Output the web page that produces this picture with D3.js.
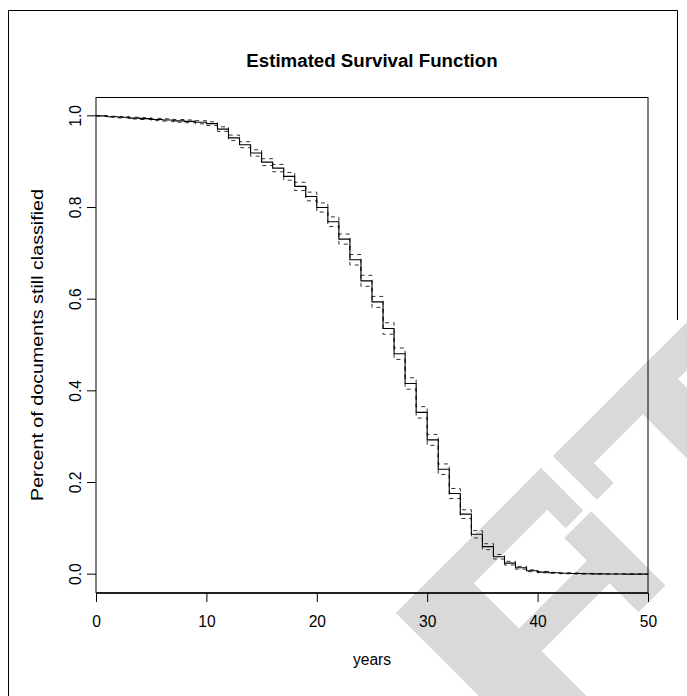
<!DOCTYPE html>
<html>
<head>
<meta charset="utf-8">
<script src="https://cdn.jsdelivr.net/npm/d3@7/dist/d3.min.js"></script>
<style>
  html, body { margin: 0; padding: 0; background: #fff; }
  svg text { font-family: "Liberation Sans", Arial, Helvetica, sans-serif; fill: #000; }
</style>
</head>
<body>
<div id="chart"></div>
<script>
// Kaplan-Meier estimate, value held from each year onward
const years = d3.range(0, 51);
const survival = [
  1.000, 0.998, 0.997, 0.995, 0.994, 0.992, 0.991, 0.989, 0.988, 0.986,
  0.983, 0.971, 0.952, 0.937, 0.919, 0.899, 0.886, 0.868, 0.846, 0.824,
  0.800, 0.769, 0.731, 0.686, 0.640, 0.594, 0.536, 0.481, 0.416, 0.353,
  0.293, 0.229, 0.176, 0.131, 0.087, 0.060, 0.038, 0.024, 0.014, 0.0075,
  0.0045, 0.003, 0.002, 0.0015, 0.001, 0.0007, 0.0005, 0.0003, 0.0002, 0.0001,
  0.000
];
// 95% confidence band (dashed)
const upper = [
  1.000, 0.999, 0.9985, 0.997, 0.996, 0.9945, 0.9935, 0.992, 0.991, 0.9895,
  0.987, 0.976, 0.958, 0.9435, 0.926, 0.9065, 0.894, 0.8765, 0.855, 0.8335,
  0.810, 0.7795, 0.742, 0.6975, 0.652, 0.606, 0.5485, 0.4935, 0.4285, 0.3655,
  0.305, 0.2405, 0.187, 0.1405, 0.095, 0.0665, 0.043, 0.028, 0.017, 0.0095,
  0.006, 0.004, 0.003, 0.0025, 0.0018, 0.0013, 0.001, 0.0007, 0.0005, 0.0003,
  0.000
];
const lower = [
  1.000, 0.997, 0.9955, 0.993, 0.992, 0.9895, 0.9885, 0.986, 0.985, 0.9825,
  0.979, 0.966, 0.946, 0.9305, 0.912, 0.8915, 0.878, 0.8595, 0.837, 0.8145,
  0.790, 0.7585, 0.720, 0.6745, 0.628, 0.582, 0.5235, 0.4685, 0.4035, 0.3405,
  0.281, 0.2175, 0.165, 0.1215, 0.079, 0.0535, 0.033, 0.020, 0.011, 0.0055,
  0.003, 0.002, 0.001, 0.0005, 0.0003, 0.0002, 0.0001, 0.000, 0.000, 0.000,
  0.000
];
const xTicks = [0, 10, 20, 30, 40, 50];
const yTicks = [0.0, 0.2, 0.4, 0.6, 0.8, 1.0];

const W = 687, H = 696;
const plot = { left: 96, right: 648, top: 97.5, bottom: 592.5 };

const svg = d3.select("#chart").append("svg")
  .attr("width", W)
  .attr("height", H);

// grey watermark letters, drawn as bars in a frame turned -45 degrees
const mark = svg.append("g")
  .attr("transform", "translate(396,613) rotate(-45)")
  .attr("fill", "#d9d9d9");
const markBars = [
  [0, 0, 76, 420],     // first stem
  [0, 0, 205, 34],     // top bar
  [180, 0, 25, 60],    // top serif
  [0, 98, 175, 32],    // middle bar
  [172, 66, 38, 105],  // second stroke (short)
  [222, 0, 260, 34],   // T bar
  [222, 0, 24, 62],    // T left serif
  [315, 0, 50, 420]    // T stem
];
mark.selectAll("rect")
  .data(markBars)
  .enter().append("rect")
  .attr("x", d => d[0])
  .attr("y", d => d[1])
  .attr("width", d => d[2])
  .attr("height", d => d[3]);

// page frame (open at the bottom)
svg.append("path")
  .attr("d", "M8.5,696 L8.5,10.5 L677.5,10.5 L677.5,320")
  .attr("fill", "none")
  .attr("stroke", "#000")
  .attr("stroke-width", 1);

const x = d3.scaleLinear().domain([0, 50]).range([plot.left, plot.right]);
const y = d3.scaleLinear().domain([-0.04, 1.04]).range([plot.bottom, plot.top]);

// plot box
svg.append("rect")
  .attr("x", plot.left)
  .attr("y", plot.top)
  .attr("width", plot.right - plot.left)
  .attr("height", plot.bottom - plot.top)
  .attr("fill", "none")
  .attr("stroke", "#000")
  .attr("stroke-width", 1);

const step = d3.line()
  .x(d => x(d[0]))
  .y(d => y(d[1]))
  .curve(d3.curveStepAfter);

// confidence limits
[upper, lower].forEach(arr => {
  svg.append("path")
    .datum(years.map((t, i) => [t, arr[i]]))
    .attr("d", step)
    .attr("fill", "none")
    .attr("stroke", "#333")
    .attr("stroke-width", 1)
    .attr("stroke-dasharray", "4,4");
});

// survival curve
svg.append("path")
  .datum(years.map((t, i) => [t, survival[i]]))
  .attr("d", step)
  .attr("fill", "none")
  .attr("stroke", "#000")
  .attr("stroke-width", 1.1);

// x axis
const xAxis = svg.append("g")
  .attr("transform", `translate(0,${plot.bottom + 0.5})`)
  .call(d3.axisBottom(x).tickValues(xTicks).tickSize(9).tickPadding(14).tickFormat(d3.format("d")))
  .call(g => g.select(".domain").attr("stroke-width", 2).attr("stroke", "#222")
    .attr("d", `M${x(0)},0H${x(50)}`));
xAxis.selectAll("text")
  .attr("font-size", "15.6px")
  .style("font-family", "'Liberation Sans', Arial, sans-serif");

// y axis
const yAxis = svg.append("g")
  .attr("transform", `translate(${plot.left},0)`)
  .call(d3.axisLeft(y).tickValues(yTicks).tickSize(9).tickFormat(d3.format(".1f")))
  .call(g => g.select(".domain").remove());
yAxis.selectAll(".tick").attr("transform", null);
yAxis.selectAll(".tick line").attr("y1", d => y(d)).attr("y2", d => y(d));
yAxis.selectAll("text")
  .attr("font-size", "15.6px")
  .style("font-family", "'Liberation Sans', Arial, sans-serif")
  .attr("text-anchor", "middle")
  .attr("dy", null)
  .attr("x", null)
  .attr("y", 0)
  .attr("transform", d => `translate(-15.5,${y(d)}) rotate(-90)`);

// titles
svg.append("text")
  .attr("x", (plot.left + plot.right) / 2)
  .attr("y", 67)
  .attr("text-anchor", "middle")
  .style("font-size", "18.7px")
  .style("font-weight", "700")
  .text("Estimated Survival Function");

svg.append("text")
  .attr("x", (plot.left + plot.right) / 2)
  .attr("y", 665)
  .attr("text-anchor", "middle")
  .style("font-size", "15.6px")
  .text("years");

svg.append("text")
  .attr("transform", `translate(43,${(plot.top + plot.bottom) / 2}) rotate(-90)`)
  .attr("text-anchor", "middle")
  .attr("textLength", 312)
  .attr("lengthAdjust", "spacingAndGlyphs")
  .style("font-size", "16px")
  .text("Percent of documents still classified");
</script>
</body>
</html>
